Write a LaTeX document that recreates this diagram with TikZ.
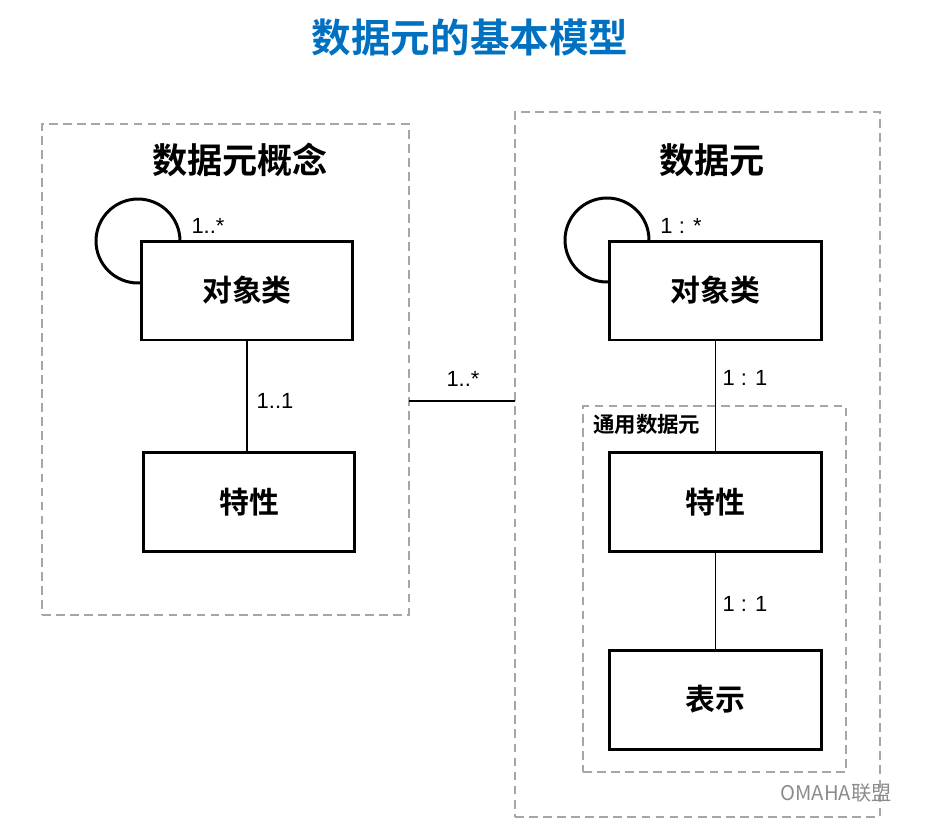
\documentclass[tikz,border=0pt]{standalone}
\usepackage{fontspec}
\setmainfont{Liberation Sans}
\newfontfamily\cjk{Noto Sans CJK SC}[BoldFont={Noto Sans CJK SC Bold}]
\begin{document}
\begin{tikzpicture}[x=0.02cm,y=-0.02cm,
  box/.style={draw=black,line width=1.7pt,fill=white,minimum width=4.24cm,minimum height=1.98cm,inner sep=0pt,font=\cjk\bfseries\fontsize{17}{20}\selectfont},
  loop/.style={draw=black,line width=1.7pt,circle,minimum size=1.68cm,inner sep=0pt},
  grp/.style={draw=black!35,line width=1.4pt,dash pattern=on 5pt off 3pt,inner sep=0pt},
  lab/.style={font=\fontsize{12.5}{14}\selectfont},
  ttl/.style={font=\cjk\bfseries\fontsize{20}{24}\selectfont},
  conn/.style={draw=black,line width=0.7pt}]
\useasboundingbox (0,0) rectangle (929,833);
% group boxes
\node[grp,minimum width=7.34cm,minimum height=9.82cm] (gA) at (225.5,369.5) {};
\node[grp,minimum width=7.30cm,minimum height=14.1cm] (gB) at (697.5,464.5) {};
\node[grp,minimum width=5.26cm,minimum height=7.32cm] (gC) at (714.5,589) {};
\node[font=\cjk\bfseries\fontsize{22.5}{26}\selectfont,text={rgb,255:red,0;green,112;blue,192}] (title) at (470,38) {数据元的基本模型};
\node[ttl] (tA) at (240,160) {数据元概念};
\node[ttl] (tB) at (712,160) {数据元};
\node[font=\cjk\bfseries\fontsize{12.2}{14}\selectfont,anchor=west] (tC) at (587,424) {通用数据元};
% loops
\node[loop] (l1) at (138,241) {};
\node[loop] (l2) at (607,240) {};
% boxes
\node[box] (o1) at (247,290.5) {对象类};
\node[box] (f1) at (249,502) {特性};
\node[box] (o2) at (715.5,290.5) {对象类};
\node[box] (f2) at (715.5,502) {特性};
\node[box] (r2) at (715.5,699.5) {表示};
% connectors
\draw[conn] (o1.south) -- (o1.south |- f1.north);
\draw[conn] (o2) -- (f2);
\draw[conn] (f2) -- (r2);
\coordinate (ca) at (409,401);
\coordinate (cb) at (515,401);
\draw[conn] (ca) -- (cb);
% labels
\node[lab] (n1) at (208,226) {1..*};
\node[lab] (n2) at (275,401) {1..1};
\node[lab] (n3) at (463,379) {1..*};
\node[lab] (n4) at (681,226) {1 : *};
\node[lab] (n5) at (745,378) {1 : 1};
\node[lab] (n6) at (745,604) {1 : 1};
\node[text=black!45,font=\cjk\fontsize{11.5}{14}\selectfont] (wm) at (836,793) {OMAHA联盟};
\end{tikzpicture}
\end{document}
